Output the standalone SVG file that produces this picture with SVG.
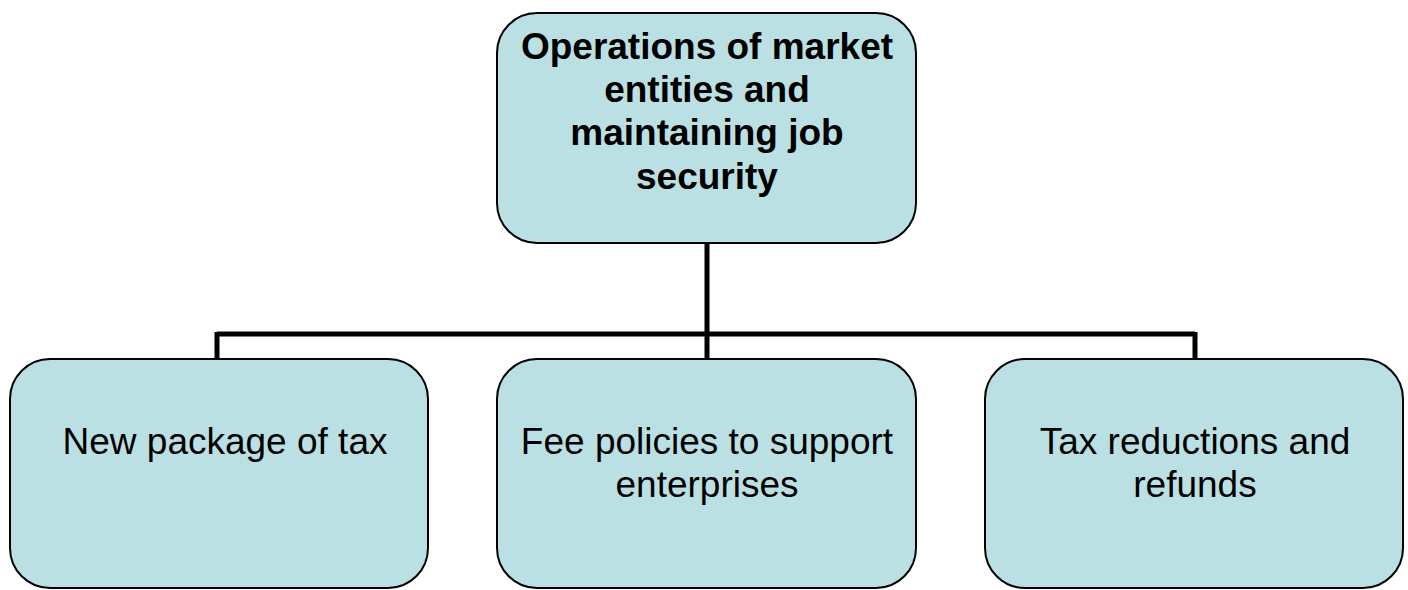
<svg xmlns="http://www.w3.org/2000/svg" width="1408" height="590" viewBox="0 0 1408 590">
  <style>
    .box { fill: #BBE0E3; stroke: #000; stroke-width: 2; }
    .title { font-family: "Liberation Sans", Arial, sans-serif; font-size: 37px; font-weight: bold; text-anchor: middle; fill: #000; }
    .label { font-family: "Liberation Sans", Arial, sans-serif; font-size: 37px; text-anchor: middle; fill: #000; }
    .wire { fill: none; stroke: #000; stroke-width: 5; }
  </style>
  <g id="connectors">
    <path class="wire" d="M707 243 V334 M217 334 H1195 M217 332 V359 M707 334 V359 M1195 332 V359"/>
  </g>
  <g id="root">
    <rect class="box" x="497" y="13" width="419" height="230" rx="40" ry="40"/>
    <text class="title" x="707" y="59">Operations of market</text>
    <text class="title" x="707" y="102">entities and</text>
    <text class="title" x="707" y="145">maintaining job</text>
    <text class="title" x="707" y="189">security</text>
  </g>
  <g id="tax-package">
    <rect class="box" x="10" y="359" width="418" height="229" rx="40" ry="40"/>
    <text class="label" x="225" y="454">New package of tax</text>
  </g>
  <g id="fee-policies">
    <rect class="box" x="497" y="359" width="419" height="229" rx="40" ry="40"/>
    <text class="label" x="707" y="454">Fee policies to support</text>
    <text class="label" x="707" y="497">enterprises</text>
  </g>
  <g id="tax-reductions">
    <rect class="box" x="985" y="359" width="418" height="229" rx="40" ry="40"/>
    <text class="label" x="1195" y="454">Tax reductions and</text>
    <text class="label" x="1195" y="497">refunds</text>
  </g>
</svg>
